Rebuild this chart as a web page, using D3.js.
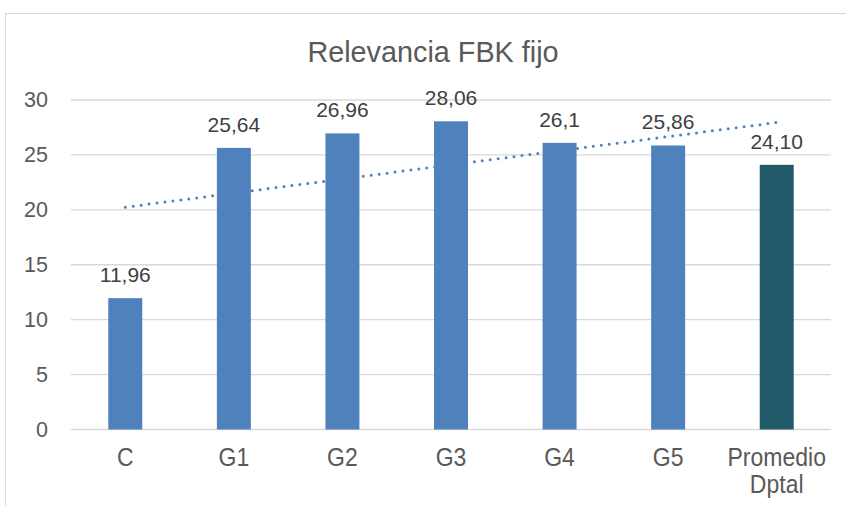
<!DOCTYPE html>
<html>
<head>
<meta charset="utf-8">
<script src="https://cdn.jsdelivr.net/npm/d3@7"></script>
<style>
  body { margin: 0; background: #fff; }
  svg { display: block; font-family: "Liberation Sans", Arial, sans-serif; }
</style>
</head>
<body>
<div id="chart"></div>
<script>
const categories = ["C", "G1", "G2", "G3", "G4", "G5", "Promedio Dptal"];
const values = [11.96, 25.64, 26.96, 28.06, 26.1, 25.86, 24.10];
const valueLabels = ["11,96", "25,64", "26,96", "28,06", "26,1", "25,86", "24,10"];
const barColors = ["#4F81BD", "#4F81BD", "#4F81BD", "#4F81BD", "#4F81BD", "#4F81BD", "#215968"];
const yTicks = [0, 5, 10, 15, 20, 25, 30];

const W = 846, H = 506;
const plot = { left: 71, right: 831, top: 100, bottom: 429.5 };

const svg = d3.select("#chart")
  .append("svg")
  .attr("width", W)
  .attr("height", H);

// outer chart frame (only left and top edges show)
svg.append("rect")
  .attr("x", 5.5)
  .attr("y", 13.5)
  .attr("width", W + 20)
  .attr("height", H + 20)
  .attr("fill", "none")
  .attr("stroke", "#d9d9d9")
  .attr("stroke-width", 1);

// scales
const pi = 0.687;
const x = d3.scaleBand()
  .domain(categories)
  .range([plot.left, plot.right])
  .paddingInner(pi)
  .paddingOuter(pi / 2);

const y = d3.scaleLinear()
  .domain([0, 30])
  .range([plot.bottom, plot.top]);

// title (slightly narrow, like the original)
svg.append("text")
  .attr("transform", "translate(433,62) scale(0.96,1)")
  .attr("text-anchor", "middle")
  .style("font-size", "30px")
  .style("fill", "#595959")
  .text("Relevancia FBK fijo");

// horizontal gridlines
svg.selectAll(".grid")
  .data(yTicks)
  .join("line")
  .attr("class", "grid")
  .attr("x1", plot.left)
  .attr("x2", plot.right)
  .attr("y1", d => y(d))
  .attr("y2", d => y(d))
  .attr("stroke", "#d9d9d9")
  .attr("stroke-width", 1.4);

// y axis
svg.append("g")
  .attr("transform", `translate(${plot.left},0)`)
  .call(d3.axisLeft(y).tickValues(yTicks).tickSize(0).tickPadding(23))
  .call(g => g.select(".domain").remove())
  .selectAll(".tick text")
  .style("font-size", "21.5px")
  .style("font-family", "'Liberation Sans', Arial, sans-serif")
  .attr("fill", "#595959");

// bars
svg.selectAll(".bar")
  .data(values)
  .join("rect")
  .attr("class", "bar")
  .attr("x", (d, i) => x(categories[i]))
  .attr("width", x.bandwidth())
  .attr("y", d => y(d))
  .attr("height", d => y(0) - y(d))
  .attr("fill", (d, i) => barColors[i]);

// data labels
svg.selectAll(".lbl")
  .data(values)
  .join("text")
  .attr("class", "lbl")
  .attr("x", (d, i) => x(categories[i]) + x.bandwidth() / 2)
  .attr("y", d => y(d) - 16)
  .attr("text-anchor", "middle")
  .style("font-size", "21px")
  .style("fill", "#404040")
  .text((d, i) => valueLabels[i]);

// linear trendline (least squares over category index)
const n = values.length;
const xs = d3.range(1, n + 1);
const mx = d3.mean(xs), my = d3.mean(values);
const slope = d3.sum(xs, (v, i) => (v - mx) * (values[i] - my)) / d3.sum(xs, v => (v - mx) ** 2);
const icpt = my - slope * mx;
const trend = [
  { c: categories[0], v: icpt + slope * 1 },
  { c: categories[n - 1], v: icpt + slope * n }
];
svg.append("path")
  .datum(trend)
  .attr("fill", "none")
  .attr("stroke", "#4F81BD")
  .attr("stroke-width", 3)
  .attr("stroke-linecap", "round")
  .attr("stroke-dasharray", "0 8")
  .attr("d", d3.line()
    .x(d => x(d.c) + x.bandwidth() / 2)
    .y(d => y(d.v)));

// category labels
const cat = svg.selectAll(".cat")
  .data(categories)
  .join("text")
  .attr("class", "cat")
  .attr("transform", d => `translate(${x(d) + x.bandwidth() / 2},466) scale(0.92,1)`)
  .attr("text-anchor", "middle")
  .style("font-size", "25px")
  .style("fill", "#595959");
cat.each(function (d) {
  const words = d.split(" ");
  const t = d3.select(this);
  words.forEach((w, k) => {
    t.append("tspan")
      .attr("x", 0)
      .attr("dy", k === 0 ? 0 : 27)
      .text(w);
  });
});
</script>
</body>
</html>
